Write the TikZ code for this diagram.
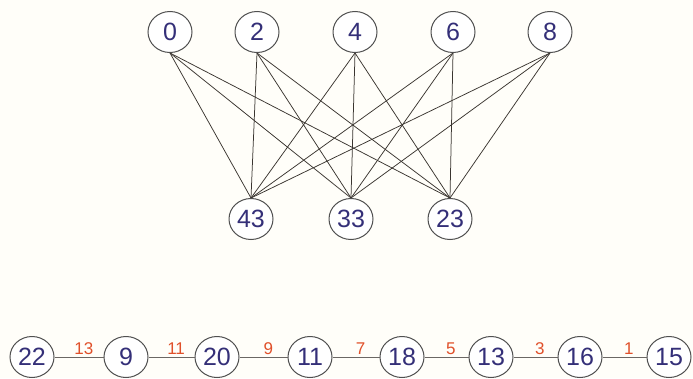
\documentclass[tikz,border=0pt]{standalone}
\usepackage{fontspec}
\setmainfont{Liberation Sans}
\usetikzlibrary{shapes.geometric}
\definecolor{bgcol}{HTML}{FFFEF9}
\definecolor{numcol}{HTML}{342F78}
\definecolor{ringcol}{HTML}{505050}
\definecolor{wcol}{HTML}{E0502A}
\definecolor{edgecol}{HTML}{3A3530}
\pgfdeclarelayer{bglayer}
\pgfdeclarelayer{edgelayer}
\pgfsetlayers{bglayer,edgelayer,main}
\tikzset{
  vtx/.style={ellipse, draw=ringcol, line width=1pt, fill=white, minimum width=44pt, minimum height=41pt, inner sep=0pt, text=numcol, font=\fontsize{25}{25}\selectfont},
  bip/.style={draw=edgecol, line width=0.75pt},
  chain/.style={draw=edgecol!75, line width=0.9pt},
  wlab/.style={text=wcol, font=\fontsize{17}{17}\selectfont, pos=0.6, above, inner sep=2pt}
}
\begin{document}
\begin{tikzpicture}[x=1pt,y=-1pt]
\begin{pgfonlayer}{bglayer}
\fill[bgcol] (0,0) rectangle (693,378);
\end{pgfonlayer}
\useasboundingbox (0,0) rectangle (693,378);
% top row
\node[vtx] (t0) at (170,32) {0};
\node[vtx] (t2) at (257,32) {2};
\node[vtx] (t4) at (355,32) {4};
\node[vtx] (t6) at (453,32) {6};
\node[vtx] (t8) at (550,32) {8};
% middle row
\node[vtx] (m43) at (251,219) {43};
\node[vtx] (m33) at (351,219) {33};
\node[vtx] (m23) at (450,219) {23};
\begin{pgfonlayer}{edgelayer}
\foreach \t in {t0,t2,t4,t6,t8}{
  \foreach \m in {m43,m33,m23}{
    \draw[bip] (\t.south) -- (\m.north);
  }
}
\end{pgfonlayer}
% bottom chain
\node[vtx] (b22) at (32,357) {22};
\node[vtx] (b9) at (126,357) {9};
\node[vtx] (b20) at (217,357) {20};
\node[vtx] (b11) at (310,357) {11};
\node[vtx] (b18) at (402,357) {18};
\node[vtx] (b13) at (491,357) {13};
\node[vtx] (b16) at (580,357) {16};
\node[vtx] (b15) at (669,357) {15};
\draw[chain] (b22) -- node[wlab] {13} (b9);
\draw[chain] (b9) -- node[wlab] {11} (b20);
\draw[chain] (b20) -- node[wlab] {9} (b11);
\draw[chain] (b11) -- node[wlab] {7} (b18);
\draw[chain] (b18) -- node[wlab] {5} (b13);
\draw[chain] (b13) -- node[wlab] {3} (b16);
\draw[chain] (b16) -- node[wlab] {1} (b15);
\end{tikzpicture}
\end{document}
